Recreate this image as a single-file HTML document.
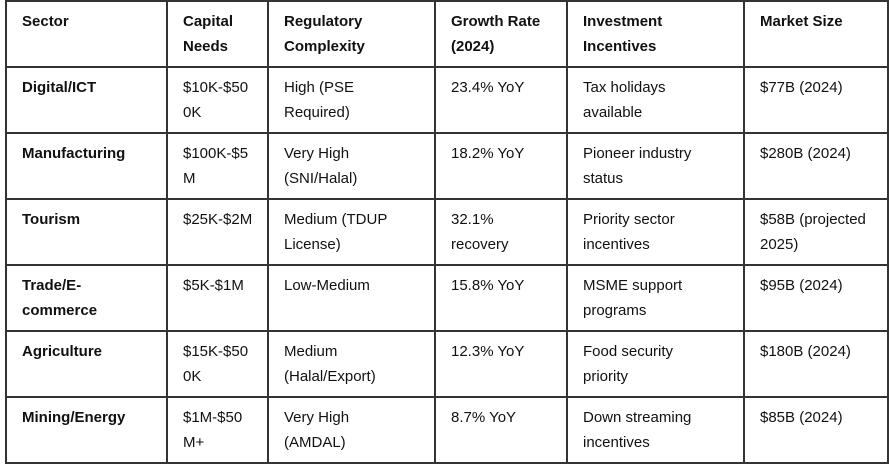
<!DOCTYPE html>
<html><head><meta charset="utf-8"><style>
html,body{margin:0;padding:0;background:#fff;width:890px;height:463px;overflow:hidden}
table{position:absolute;left:5px;top:0px;width:882px;border-collapse:collapse;table-layout:fixed;font-family:"Liberation Sans",Arial,sans-serif;font-size:15px;color:#111}
td,th{border:2px solid #333;height:62px;padding:7px 4px 0 15px;vertical-align:top;line-height:25px;text-align:left;box-sizing:border-box;white-space:nowrap;overflow:hidden}
tr{height:66px}
th{font-weight:bold}
td.s{font-weight:bold}
</style></head><body>
<table>
<colgroup><col style="width:161px"><col style="width:101px"><col style="width:167px"><col style="width:132px"><col style="width:177px"><col style="width:144px"></colgroup>
<tr><th>Sector</th><th>Capital<br>Needs</th><th>Regulatory<br>Complexity</th><th>Growth Rate<br>(2024)</th><th>Investment<br>Incentives</th><th>Market Size</th></tr>
<tr><td class="s">Digital/ICT</td><td>$10K-$50<br>0K</td><td>High (PSE<br>Required)</td><td>23.4% YoY</td><td>Tax holidays<br>available</td><td>$77B (2024)</td></tr>
<tr><td class="s">Manufacturing</td><td>$100K-$5<br>M</td><td>Very High<br>(SNI/Halal)</td><td>18.2% YoY</td><td>Pioneer industry<br>status</td><td>$280B (2024)</td></tr>
<tr><td class="s">Tourism</td><td>$25K-$2M</td><td>Medium (TDUP<br>License)</td><td>32.1%<br>recovery</td><td>Priority sector<br>incentives</td><td>$58B (projected<br>2025)</td></tr>
<tr><td class="s">Trade/E-<br>commerce</td><td>$5K-$1M</td><td>Low-Medium</td><td>15.8% YoY</td><td>MSME support<br>programs</td><td>$95B (2024)</td></tr>
<tr><td class="s">Agriculture</td><td>$15K-$50<br>0K</td><td>Medium<br>(Halal/Export)</td><td>12.3% YoY</td><td>Food security<br>priority</td><td>$180B (2024)</td></tr>
<tr><td class="s">Mining/Energy</td><td>$1M-$50<br>M+</td><td>Very High<br>(AMDAL)</td><td>8.7% YoY</td><td>Down streaming<br>incentives</td><td>$85B (2024)</td></tr>
</table>
</body></html>
